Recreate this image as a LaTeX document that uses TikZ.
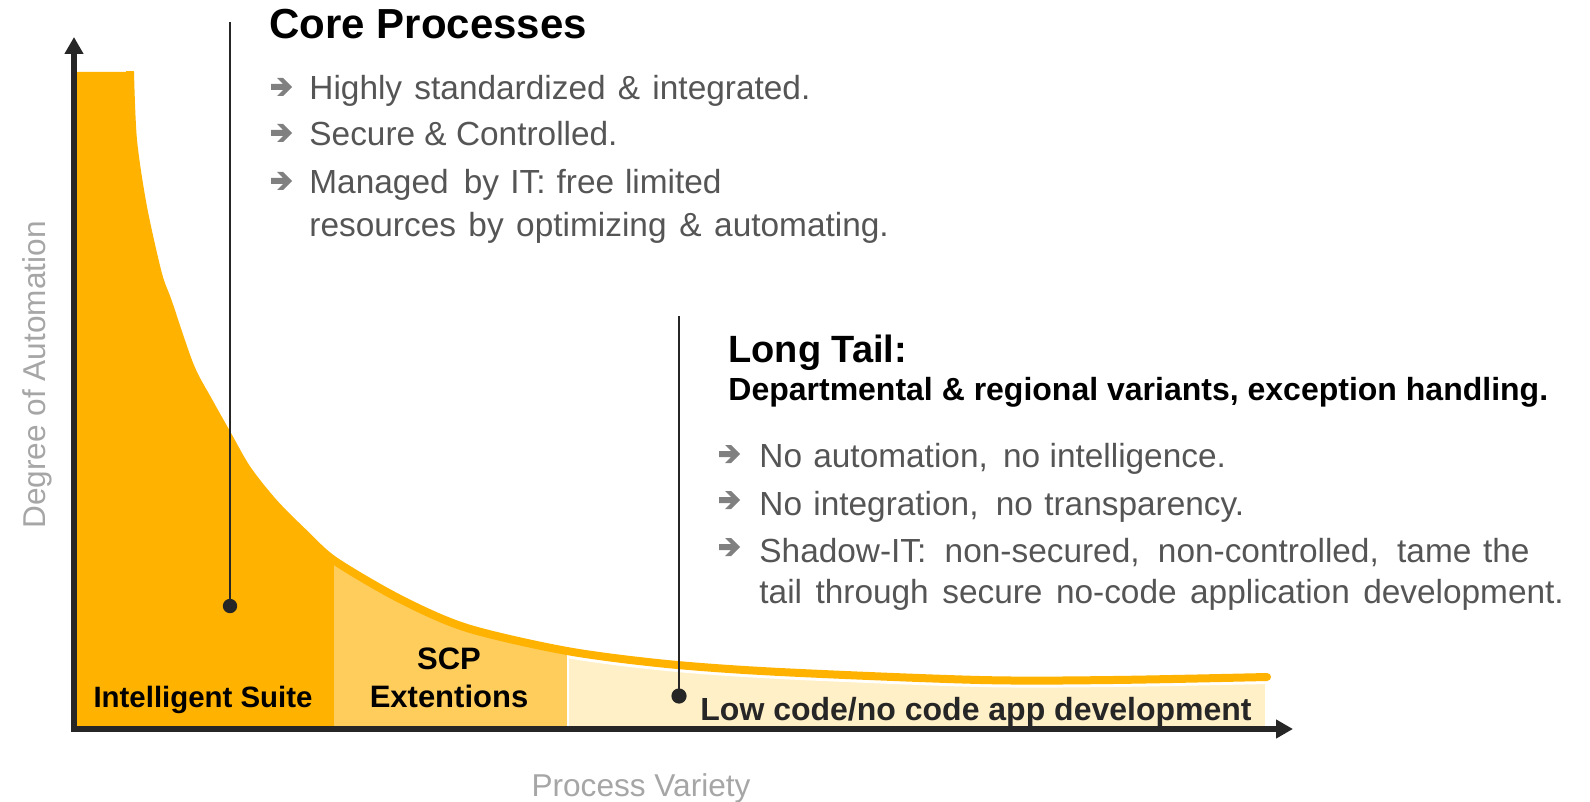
\documentclass[tikz,border=0pt]{standalone}
\usepackage{fontspec}
\setmainfont{Liberation Sans}
\usetikzlibrary{arrows.meta}
\definecolor{orD}{HTML}{FFB300}
\definecolor{orM}{HTML}{FFCD5C}
\definecolor{orL}{HTML}{FFF0C8}
\definecolor{axisc}{HTML}{262626}
\definecolor{txtg}{HTML}{555555}
\definecolor{bulc}{HTML}{808080}
\definecolor{labg}{HTML}{A6A6A6}
\newcommand\xsp[1]{\hspace{#1pt}}
\tikzset{
  bularr/.pic={\fill[bulc] (0,-3) -- (12,-3) -- (6,-9) -- (12,-9) -- (21,0) -- (12,9) -- (6,9) -- (12,3) -- (0,3) -- cycle;},
  bt/.style={anchor=base west, inner sep=0pt, text=txtg, font=\fontsize{16.7pt}{20pt}\selectfont},
  ttl/.style={anchor=base west, inner sep=0pt, text=black, font=\bfseries\fontsize{21pt}{25pt}\selectfont},
  areal/.style={anchor=base, inner sep=0pt, text=black, font=\bfseries\fontsize{15.5pt}{18pt}\selectfont},
  axlab/.style={anchor=base, inner sep=0pt, text=labg, font=\fontsize{15.8pt}{18pt}\selectfont},
  axisline/.style={draw=axisc, line width=3pt, -{Triangle[length=8.5pt,width=9pt]}},
  pointer/.style={draw=axisc, line width=1pt},
}
\begin{document}
\begin{tikzpicture}[x=0.5pt,y=-0.5pt]
\useasboundingbox (0,0) rectangle (1590,802);
% filled areas under the curve
\begin{scope}
\clip (77,72) -- plot[smooth] coordinates {(130,72) (133,140) (143,207) (158,274) (168,302) (190,366) (209,402) (227,434) (247,469) (274,503) (306,535) (335,561) (400,599) (467,628) (567,651) (667,664) (780,672) (980,680) (1113,680) (1267,677)} -- (1267,727) -- (77,727) -- cycle;
\fill[orD] (70,60) rectangle (334,735);
\fill[orM] (334,60) rectangle (567,735);
\fill[orL] (567,60) rectangle (1265,735);
\end{scope}
% white gap above the low code area
\begin{scope}
\clip (567,0) rectangle (1300,800);
\draw[white, line width=7pt] plot[smooth] coordinates {(130,72) (133,140) (143,207) (158,274) (168,302) (190,366) (209,402) (227,434) (247,469) (274,503) (306,535) (335,561) (400,599) (467,628) (567,651) (667,664) (780,672) (980,680) (1113,680) (1267,677)};
\end{scope}
\coordinate (sepT) at (568,652);
\coordinate (sepB) at (568,727);
\draw[white, line width=1pt] (sepT) -- (sepB);
% orange curve line
\begin{scope}
\clip (0,72) rectangle (1300,800);
\draw[orD, line width=4pt, line cap=round] plot[smooth] coordinates {(130,72) (133,140) (143,207) (158,274) (168,302) (190,366) (209,402) (227,434) (247,469) (274,503) (306,535) (335,561) (400,599) (467,628) (567,651) (667,664) (780,672) (980,680) (1113,680) (1267,677)};
\end{scope}
% axes
\coordinate (yb) at (74,732);
\coordinate (yt) at (74,37);
\coordinate (xl) at (71,729);
\coordinate (xr) at (1293,729);
\draw[axisline] (yb) -- (yt);
\draw[axisline] (xl) -- (xr);
% pointer lines
\coordinate (p1t) at (230,22);
\coordinate (p1b) at (230,606);
\coordinate (p2t) at (679,316);
\coordinate (p2b) at (679,696);
\draw[pointer] (p1t) -- (p1b);
\fill[axisc] (p1b) circle[radius=3.6pt];
\draw[pointer] (p2t) -- (p2b);
\fill[axisc] (p2b) circle[radius=3.8pt];
% core processes
\node[ttl] (core) at (269,39) {Core Processes};
\pic at (271,87) {bularr};
\pic at (271,133) {bularr};
\pic at (271,181) {bularr};
\node[bt] (c1) at (309,100) {Highly \xsp{1.5}standardized \xsp{1.5}\& \xsp{1.5}integrated.};
\node[bt] (c2) at (309,146) {Secure \& Controlled.};
\node[bt] (c3) at (309,194) {Managed \xsp{3}by \xsp{0.9}IT: \xsp{0.9}free \xsp{0.8}limited};
\node[bt] (c4) at (309,237) {resources \xsp{1.6}by \xsp{1.6}optimizing \xsp{1.8}\& \xsp{1.6}automating.};
% long tail
\node[ttl, font=\bfseries\fontsize{19pt}{23pt}\selectfont] (lt) at (728,362) {Long Tail:};
\node[ttl, font=\bfseries\fontsize{16pt}{19pt}\selectfont] (dep) at (728,400) {Departmental \& regional variants, exception handling.};
\pic at (719,454) {bularr};
\pic at (719,500) {bularr};
\pic at (719,547) {bularr};
\node[bt] (l1) at (759,467) {No \xsp{1}automation, \xsp{3}no intelligence.};
\node[bt] (l2) at (759,515) {No \xsp{1}integration, \xsp{4}no \xsp{1}transparency.};
\node[bt] (l3) at (759,562) {Shadow-IT: \xsp{4.5}non-secured, \xsp{4.5}non-controlled, \xsp{4.5}tame \xsp{1.2}the};
\node[bt] (l4) at (759,603) {tail \xsp{2.1}through \xsp{2.1}secure \xsp{2.1}no-code \xsp{2.1}application \xsp{2.1}development.};
% area labels
\node[areal, font=\bfseries\fontsize{14.7pt}{18pt}\selectfont] (is) at (203,707) {Intelligent Suite};
\node[areal] (scp) at (449,669) {SCP};
\node[areal] (ext) at (449,707) {Extentions};
\node[areal, anchor=base west, text=axisc, font=\bfseries\fontsize{16pt}{19pt}\selectfont] (lc) at (700,720) {Low code/no code app development};
% axis labels
\node[axlab, rotate=90] (ya) at (45,375) {Degree of Automation};
\node[axlab] (xa) at (641,796) {Process Variety};
\end{tikzpicture}
\end{document}
